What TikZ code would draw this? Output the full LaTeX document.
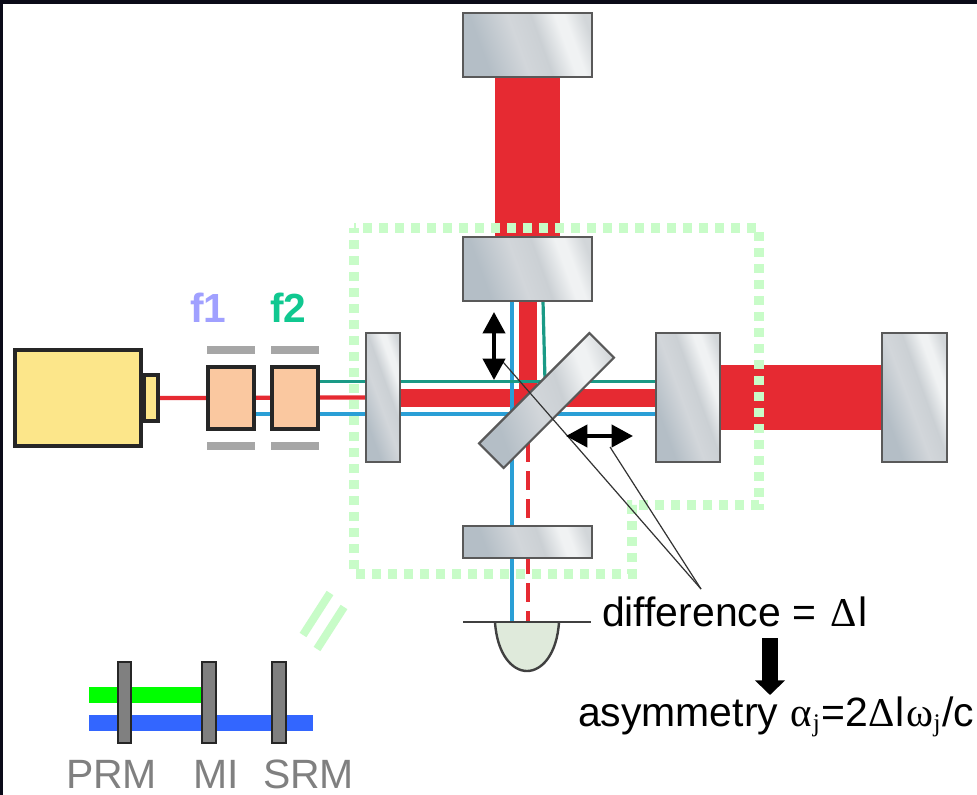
\documentclass[tikz,border=0pt]{standalone}
\usepackage{fontspec}
\setmainfont{Liberation Sans}
\newfontfamily\symbfont{Liberation Serif}
\usetikzlibrary{arrows.meta,calc}
\definecolor{beamred}{HTML}{E62A32}
\definecolor{beamblue}{HTML}{2A9FD6}
\definecolor{beamgreen}{HTML}{1A9A86}
\definecolor{boxgreen}{HTML}{C8FCC8}
\definecolor{lasery}{HTML}{FCE68A}
\definecolor{eomc}{HTML}{FAC8A0}
\definecolor{barg}{HTML}{A6A6A6}
\definecolor{darkbg}{HTML}{0A0A18}
\definecolor{pdfill}{HTML}{DFEADB}
\definecolor{fone}{HTML}{A0A0FF}
\definecolor{ftwo}{HTML}{10C890}
\definecolor{legblue}{HTML}{3366FF}
\definecolor{mA}{HTML}{B4BEC6}
\definecolor{mB}{HTML}{D2D6DA}
\definecolor{mC}{HTML}{CBD0D4}
\definecolor{mD}{HTML}{F0F2F3}
\definecolor{mE}{HTML}{D2D6D9}
\pgfdeclarehorizontalshading{mirrorshade}{100bp}{color(0bp)=(mA); color(30bp)=(mA); color(46bp)=(mB); color(56bp)=(mC); color(66bp)=(mD); color(70bp)=(mD); color(78bp)=(mE); color(100bp)=(mE)}
\pgfdeclarelayer{bglayer}
\pgfdeclarelayer{beamlayer}
\pgfsetlayers{bglayer,beamlayer,main}
\tikzset{
  x=0.75pt,y=-0.75pt,
  mirror/.style={draw=black!65,line width=1.6pt,shading=mirrorshade,shading angle=20,inner sep=0pt,outer sep=0pt,minimum width=#1},
  mirror/.default=97pt,
  boxn/.style={draw=black!85,line width=3pt,inner sep=0pt,outer sep=0pt},
  barn/.style={fill=barg,inner sep=0pt,outer sep=0pt,minimum width=36pt,minimum height=6pt},
  legbar/.style={draw=black!85,line width=1.4pt,fill=black!50,inner sep=0pt,outer sep=0pt,minimum width=10pt,minimum height=61pt},
  thickred/.style={beamred,line width=48.5pt},
  medred/.style={beamred,line width=13.5pt},
  thinred/.style={beamred,line width=3.2pt},
  bluebeam/.style={beamblue,line width=2.8pt},
  greenbeam/.style={beamgreen,line width=2.4pt},
  greenbox/.style={boxgreen,line width=7.5pt,dash pattern=on 7pt off 5pt,dash phase=5.25pt},
  pointer/.style={black!80,line width=0.9pt},
  dbl/.style={line width=3pt,{Triangle[length=16pt,width=16.5pt]}-{Triangle[length=16pt,width=16.5pt]}},
  lbl/.style={inner sep=0pt,outer sep=0pt,anchor=base west,font=\fontsize{30.7}{31}\selectfont},
  glbl/.style={lbl,text=black!50},
}
\newcommand{\subj}{\kern0.5pt\raisebox{-4pt}{\fontsize{19}{19}\selectfont j}}
\begin{document}
\begin{tikzpicture}
\useasboundingbox (0,0) rectangle (977,795);
\begin{pgfonlayer}{bglayer}
\fill[white] (0,0) rectangle (977,795);
\fill[darkbg] (0,0) rectangle (977,4);
\fill[darkbg] (0,0) rectangle (3,795);
\end{pgfonlayer}

% optics
\node[mirror,minimum height=48pt] (etmy) at (527.5,45) {};
\node[mirror,minimum height=48pt] (itmy) at (527.5,269) {};
\node[mirror=25.5pt,minimum height=97pt] (prm) at (383,397.5) {};
\node[mirror=48.5pt,minimum height=97pt] (itmx) at (688,397.5) {};
\node[mirror=48.5pt,minimum height=97pt] (etmx) at (914.5,397.5) {};
\node[mirror,minimum height=24pt] (srm) at (527.5,542) {};
\node[mirror=117pt,minimum height=26pt,rotate=45] (bsnode) at (546.5,400.5) {};

% laser and modulators
\node[boxn,fill=lasery,minimum width=95pt,minimum height=71.5pt] (laser) at (78,398) {};
\node[boxn,fill=lasery,minimum width=11pt,minimum height=34pt] (nozzle) at (151,398) {};
\node[boxn,fill=eomc,minimum width=35pt,minimum height=47pt] (eom1) at (231,398) {};
\node[boxn,fill=eomc,minimum width=35pt,minimum height=47pt] (eom2) at (295,398) {};
\node[barn] (b1) at (231,350) {};
\node[barn] (b2) at (295,350) {};
\node[barn] (b3) at (231,446) {};
\node[barn] (b4) at (295,446) {};

% beam end points
\coordinate (bs) at (528,398);
\coordinate (pdb) at (512,622);
\coordinate (pdr) at (528,622);

\begin{pgfonlayer}{beamlayer}
\draw[thickred] (etmy.south) -- (itmy.north);
\draw[thickred] (itmx.east) -- (etmx.west);
\draw[medred] (528,301) -- (bs);
\draw[medred] (prm.east) -- (itmx.west);
\draw[bluebeam] (512,301) -- (pdb);
\draw[greenbeam] (543,301) -- (545,381);
\draw[greenbeam] (eom2.east|-0,381.5) -- (itmx.west|-0,381.5);
\draw[bluebeam] (eom1.east|-0,414) -- (itmx.west|-0,414);
\draw[thinred] (nozzle.east) -- (prm.west);
\draw[thinred,dash pattern=on 14pt off 7pt] (528,443) -- (pdr);
\end{pgfonlayer}

% dotted region
\draw[greenbox] (354,228) -- (759,228) -- (759,505) -- (632,505) -- (632,574) -- (354,574) -- cycle;
\draw[boxgreen,line width=6pt] (330,593) -- (303,635);
\draw[boxgreen,line width=6pt] (344,607) -- (317,649);

% photodiode
\coordinate (pdl) at (463,622);
\coordinate (pdrr) at (591,622);
\draw[black!75,line width=1.8pt,fill=pdfill] (495,622) .. controls (497,654) and (512,671) .. (527,671) .. controls (542,671) and (557,654) .. (559,622);
\draw[black!75,line width=1.8pt] (pdl) -- (pdrr);

% pointer lines
\coordinate (ptip) at (701,589);
\coordinate (pa) at (503,362);
\coordinate (pb) at (610,447);
\draw[pointer] (ptip) -- (pa);
\draw[pointer] (ptip) -- (pb);

% double arrows
\coordinate (va) at (494,312);
\coordinate (vb) at (494,380);
\coordinate (ha) at (566,436);
\coordinate (hb) at (633,436);
\draw[dbl] (va) -- (vb);
\draw[dbl] (ha) -- (hb);

% texts
\node[lbl] (diff) at (602,626) {difference = {\symbfont\kern2pt Δ\kern1pt}l};
\node[lbl] (asym) at (578,726) {asymmetry {\symbfont\kern1pt α\subj}\kern1pt=2{\symbfont Δ\kern1pt}l{\symbfont\kern1pt ω\subj}\kern1pt/c};
\coordinate (ds) at (770,638);
\coordinate (de) at (770,695);
\draw[line width=12pt,-{Triangle[length=11pt,width=22pt]}] (ds) -- (de);
\node[lbl,font=\fontsize{30.5}{31}\selectfont\bfseries,text=fone] (f1) at (190,322) {f1};
\node[lbl,font=\fontsize{30.5}{31}\selectfont\bfseries,text=ftwo] (f2) at (270,322) {f2};

% legend
\coordinate (g0) at (89,695);
\coordinate (b0) at (89,723);
\coordinate (b1e) at (313,723);
\begin{pgfonlayer}{beamlayer}
\draw[green,line width=11.5pt] (g0) -- (209,695);
\draw[legblue,line width=11.5pt] (b0) -- (b1e);
\end{pgfonlayer}
\node[legbar] (lp) at (124.5,702.5) {};
\node[legbar] (lm) at (209,702.5) {};
\node[legbar] (ls) at (279,702.5) {};
\node[glbl] (tp) at (66,788) {PRM};
\node[glbl] (tm) at (193,788) {MI};
\node[glbl] (ts) at (263,788) {SRM};
\end{tikzpicture}
\end{document}
